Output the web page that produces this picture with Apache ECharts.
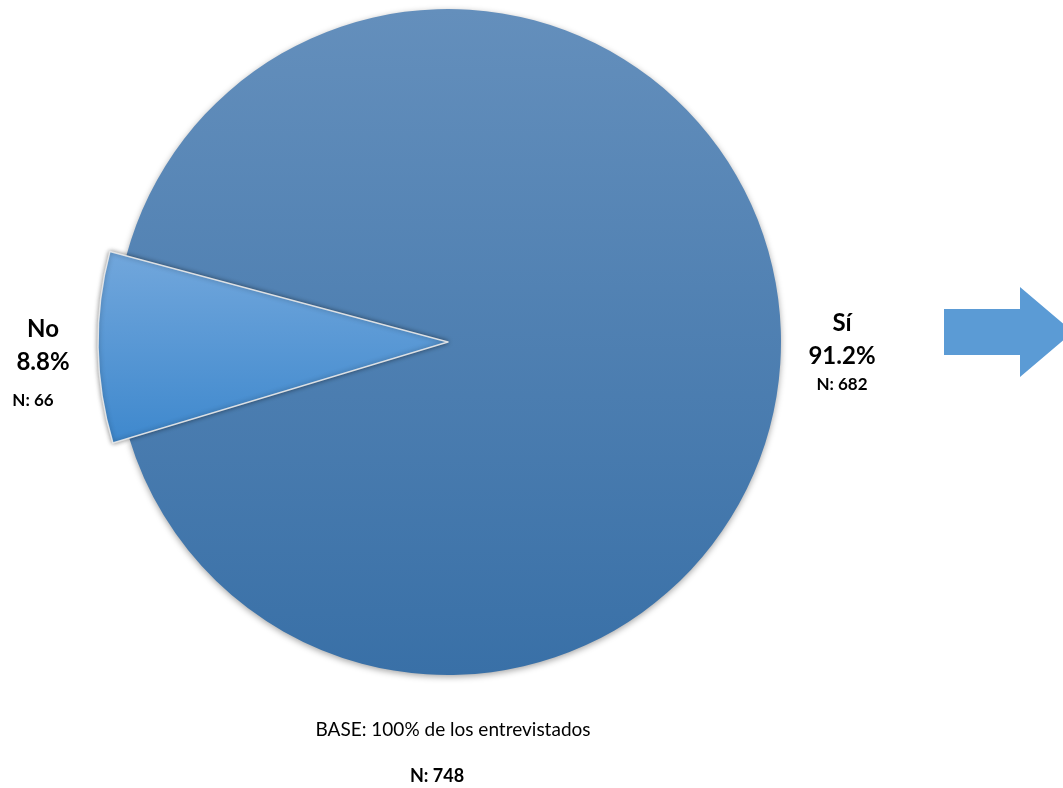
<!DOCTYPE html>
<html>
<head>
<meta charset="utf-8">
<script src="https://cdn.jsdelivr.net/npm/echarts@6/dist/echarts.min.js"></script>
<style>
html,body{margin:0;padding:0;background:#fff;}
#chart{width:1063px;height:788px;}
</style>
</head>
<body>
<div id="chart"></div>
<script>
// ---- data ----
const categories = ['Sí', 'No'];
const counts = [682, 66];
const percents = [91.2, 8.8];
const baseText = 'BASE: 100% de los entrevistados';
const baseN = 748;

const chart = echarts.init(document.getElementById('chart'));
const FONT = 'Lato, "Open Sans", sans-serif';

const siColor = new echarts.graphic.LinearGradient(0, 0, 0, 1, [
  {offset: 0, color: '#648fbc'},
  {offset: 1, color: '#3970a7'}
]);
const noColor = new echarts.graphic.LinearGradient(0, 0, 0, 1, [
  {offset: 0, color: '#72a7dc'},
  {offset: 1, color: '#3e88cd'}
]);
const clear = 'rgba(0,0,0,0)';

const labelPos = [
  {x: 842, y: 352},
  {x: 43, y: 368}
];

function labelFormatter(p) {
  const i = p.dataIndex;
  const nLine = i === 1 ? '{cl|N: ' + counts[i] + '}' : '{c|N: ' + counts[i] + '}';
  return '{a|' + categories[i] + '}\n{b|' + percents[i].toFixed(1) + '%}\n' + nLine;
}

const rich = {
  a: {fontFamily: FONT, fontWeight: 'bold', fontSize: 24, color: '#000', lineHeight: 33},
  b: {fontFamily: FONT, fontWeight: 'bold', fontSize: 24, color: '#000', lineHeight: 33},
  c: {fontFamily: FONT, fontWeight: 'bold', fontSize: 17, color: '#000', lineHeight: 24},
  cl: {fontFamily: FONT, fontWeight: 'bold', fontSize: 17, color: '#000', lineHeight: 44, padding: [0, 20, 0, 0]}
};

chart.setOption({
  animation: false,
  graphic: [
    {
      type: 'polygon',
      shape: {points: [[944, 309], [1020, 309], [1020, 287], [1073, 332], [1020, 377], [1020, 355], [944, 355]]},
      style: {fill: '#5b9bd5'}
    },
    {
      type: 'text',
      x: 453, y: 730,
      style: {text: baseText, font: '19px ' + FONT, fill: '#000', textAlign: 'center', textVerticalAlign: 'middle'}
    },
    {
      type: 'text',
      x: 437, y: 776,
      style: {text: 'N: ' + baseN, font: 'bold 18px ' + FONT, fill: '#000', textAlign: 'center', textVerticalAlign: 'middle'}
    }
  ],
  series: [
    {
      type: 'pie',
      silent: true,
      center: [448, 342],
      radius: [0, 333],
      startAngle: 165,
      clockwise: true,
      label: {show: true, formatter: labelFormatter, rich: rich, align: 'center'},
      labelLine: {show: false},
      labelLayout: function (p) {
        const pos = labelPos[p.dataIndex];
        return {x: pos.x, y: pos.y, align: 'center', verticalAlign: 'middle'};
      },
      data: [
        {name: categories[0], value: counts[0], itemStyle: {color: siColor, shadowBlur: 6, shadowOffsetY: 2, shadowColor: 'rgba(0,0,0,0.35)'}},
        {name: categories[1], value: counts[1], itemStyle: {color: clear}}
      ]
    },
    {
      type: 'pie',
      silent: true,
      center: [448, 342],
      radius: [0, 350],
      startAngle: 165,
      clockwise: true,
      label: {show: false},
      labelLine: {show: false},
      data: [
        {name: categories[0], value: counts[0], itemStyle: {color: clear}},
        {name: categories[1], value: counts[1], itemStyle: {color: noColor, borderColor: 'rgba(235,235,235,0.9)', borderWidth: 1.5, shadowBlur: 5, shadowColor: 'rgba(0,0,0,0.45)'}}
      ]
    }
  ]
});
</script>
</body>
</html>
